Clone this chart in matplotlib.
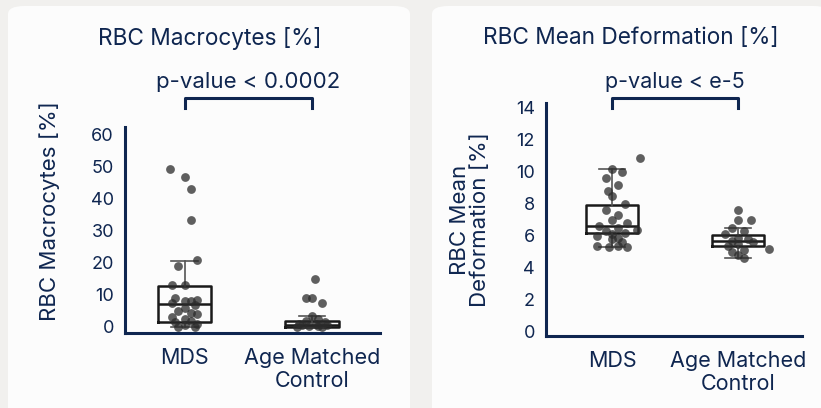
import numpy as np
import matplotlib.pyplot as plt
from matplotlib.patches import FancyBboxPatch

# ---------------- data ----------------
groups = ['MDS', 'Age Matched\nControl']

# RBC Macrocytes [%]
macro_mds = [49.5, 47.0, 43.0, 33.5, 21.0, 19.0, 13.0, 13.0, 9.0, 8.5, 8.0, 8.0, 7.5,
             7.0, 6.0, 5.0, 4.5, 4.0, 3.0, 2.5, 2.0, 1.5, 1.0, 0.5, 0.0, 0.0]
macro_mds_jit = [-0.12, 0.0, 0.05, 0.05, 0.1, -0.05, -0.1, 0.0, -0.08, 0.1, 0.0, 0.05, -0.1,
                 0.08, 0.0, -0.05, 0.05, 0.1, -0.1, 0.0, 0.05, -0.08, 0.1, 0.0, -0.05, 0.08]
macro_ctrl = [15.0, 9.0, 9.0, 7.5, 3.5, 2.5, 2.0, 1.5, 1.0, 1.0, 0.5, 0.5, 0.3, 0.2, 0.0, 0.0]
macro_ctrl_jit = [0.02, -0.05, 0.0, 0.08, 0.0, 0.05, -0.05, 0.1, -0.1, 0.03, 0.12, -0.08, 0.05, -0.02, 0.08, -0.12]
# box stats: whislo, q1, med, q3, whishi
macro_box = [[0.0, 1.6, 7.3, 12.8, 20.7], [0.0, 0.0, 0.5, 2.0, 3.5]]

# RBC Mean Deformation [%]
deform_mds = [10.9, 10.2, 10.0, 9.6, 9.2, 8.8, 8.5, 8.0, 7.6, 7.3, 7.0, 6.8, 6.6, 6.5, 6.4,
              6.3, 6.2, 6.1, 6.0, 5.9, 5.8, 5.6, 5.4, 5.3, 5.3, 5.4]
deform_mds_jit = [0.22, 0.0, 0.08, -0.05, 0.05, -0.03, 0.0, 0.1, -0.05, 0.05, 0.0, 0.12, -0.1,
                  0.05, 0.2, -0.05, 0.1, 0.0, -0.12, 0.05, 0.0, 0.08, -0.12, 0.12, -0.02, 0.05]
deform_ctrl = [7.6, 7.0, 7.0, 6.5, 6.3, 6.1, 5.9, 5.8, 5.7, 5.6, 5.5, 5.4, 5.2, 5.1, 5.0, 4.8, 4.6]
deform_ctrl_jit = [0.0, 0.0, 0.1, -0.05, 0.05, -0.1, 0.0, 0.08, -0.05, 0.12, 0.0, -0.08, 0.25, 0.05, -0.05, 0.0, 0.05]
deform_box = [[5.3, 6.2, 6.65, 7.95, 10.2], [4.6, 5.35, 5.7, 6.05, 6.5]]

navy = '#0f2650'
plt.rcParams['font.family'] = ['Inter', 'DejaVu Sans']

W, H = 821, 408
fig = plt.figure(figsize=(W / 100, H / 100), dpi=100)
fig.patch.set_facecolor('#f1f0ee')


def px_axes(x0, y0, x1, y1):
    # pixel box (top-left origin) -> figure axes
    return fig.add_axes([x0 / W, 1 - y1 / H, (x1 - x0) / W, (y1 - y0) / H])


# white cards (behind the axes)
for cx0, cx1 in [(8, 410), (432, 830)]:
    card = FancyBboxPatch((cx0 / W, -0.05), (cx1 - cx0) / W, (H - 6) / H + 0.05,
                          boxstyle='round,pad=0,rounding_size=0.02',
                          transform=fig.transFigure, facecolor='#fcfcfc', edgecolor='none',
                          zorder=-5)
    fig.patches.append(card)


def panel(ax, box, d1, j1, d2, j2, ylim, xlim, yticks, title, title_x, ylabel, ylabel_x, ylabel_y,
          ptext, p_y, p_size, br_top, br_bot):
    ax.set_facecolor('none')
    ax.set_xlim(*xlim)
    ax.set_ylim(*ylim)
    stats = []
    for b in box:
        stats.append(dict(whislo=b[0], q1=b[1], med=b[2], q3=b[3], whishi=b[4], fliers=[]))
    ax.bxp(stats, positions=[0, 1], widths=0.42, showfliers=False,
           boxprops=dict(color='#1a1a1a', lw=1.8),
           medianprops=dict(color='#1a1a1a', lw=1.8),
           whiskerprops=dict(color='#555555', lw=1.2),
           capprops=dict(color='#555555', lw=1.2))
    ax.scatter(np.array(j1), d1, s=40, color='#2b2b2b', alpha=0.75, lw=0, zorder=3)
    ax.scatter(1 + np.array(j2), d2, s=40, color='#2b2b2b', alpha=0.75, lw=0, zorder=3)
    for s in ['top', 'right']:
        ax.spines[s].set_visible(False)
    for s in ['left', 'bottom']:
        ax.spines[s].set_color(navy)
        ax.spines[s].set_linewidth(2.2)
    ax.set_yticks(yticks)
    ax.set_xticks([0, 1])
    ax.set_xticklabels(groups, fontsize=15.5, color=navy, linespacing=1.2)
    ax.tick_params(axis='y', length=0, pad=8, labelsize=13, labelcolor=navy)
    ax.tick_params(axis='x', length=0, pad=11)
    ax.plot([0, 0, 1, 1], [br_bot, br_top, br_top, br_bot], color=navy, lw=2.2, clip_on=False)
    ax.text(0.5, p_y, ptext, ha='center', va='center', fontsize=p_size, color=navy)
    fig.text(title_x / W, 1 - 38 / H, title, ha='center', va='center', fontsize=16.3, color=navy)
    fig.text(ylabel_x / W, 1 - ylabel_y / H, ylabel, ha='center', va='center', rotation=90,
             fontsize=16, color=navy, linespacing=1.0)


ax1 = px_axes(125, 127, 380, 333)
panel(ax1, macro_box, macro_mds, macro_mds_jit, macro_ctrl, macro_ctrl_jit,
      (-1.9, 62.5), (-0.47, 1.535), [0, 10, 20, 30, 40, 50, 60],
      'RBC Macrocytes [%]', 210, 'RBC Macrocytes [%]', 50, 211,
      'p-value < 0.0002', 76.5, 16, 71.6, 68.4)

ax2 = px_axes(546, 103, 802, 336)
panel(ax2, deform_box, deform_mds, deform_mds_jit, deform_ctrl, deform_ctrl_jit,
      (-0.25, 14.31), (-0.524, 1.508), [0, 2, 4, 6, 8, 10, 12, 14],
      'RBC Mean Deformation [%]', 631, 'RBC Mean\nDeformation [%]', 470, 220,
      'p-value < e-5', 15.6, 15.5, 14.6, 14.0)

fig.savefig('out.png', dpi=100, facecolor=fig.get_facecolor())
